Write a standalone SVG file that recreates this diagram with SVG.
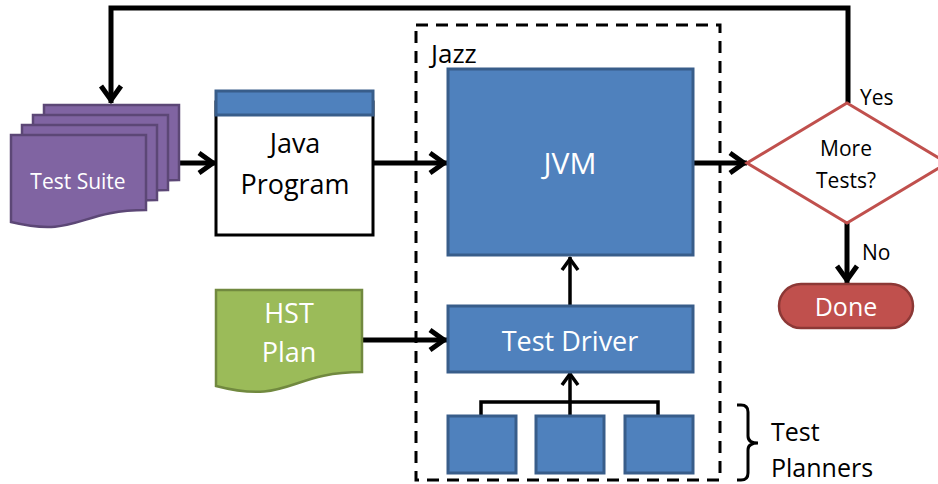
<svg xmlns="http://www.w3.org/2000/svg" width="938" height="484" viewBox="0 0 938 484">
<defs>
<style>
text{font-family:"Open Sans","Noto Sans","Liberation Sans",sans-serif;text-anchor:middle}
.w{fill:#fff}
.k{fill:#000}
.blue{fill:#4F81BD;stroke:#385D8A;stroke-width:3}
.card{fill:#8064A2;stroke:#5C4776;stroke-width:2.5}
.con{fill:none;stroke:#000;stroke-width:5}
.thin{fill:none;stroke:#000;stroke-width:3.5}
</style>
<path id="card" d="M0,0 H135 V75 C67,75 67,103 0,87 Z"/>
<marker id="ah" markerUnits="userSpaceOnUse" viewBox="-25 -15 30 30" markerWidth="30" markerHeight="30" refX="0" refY="0" orient="auto" overflow="visible">
<path d="M-17,-10 L-3,0 L-17,10" fill="none" stroke="#000" stroke-width="5"/>
</marker>
<marker id="ahs" markerUnits="userSpaceOnUse" viewBox="-25 -15 30 30" markerWidth="30" markerHeight="30" refX="0" refY="0" orient="auto" overflow="visible">
<path d="M-13,-8 L-2,0 L-13,8" fill="none" stroke="#000" stroke-width="3.5"/>
</marker>
</defs>
<rect width="938" height="484" fill="#fff"/>

<g id="jazz">
<rect x="416" y="25" width="304" height="455" fill="none" stroke="#000" stroke-width="3" stroke-dasharray="12,8"/>
<text x="431" y="63" class="k" style="text-anchor:start;font-size:26px">Jazz</text>
</g>

<g id="connectors">
<path class="con" d="M848,103 V8 H111 V103" marker-end="url(#ah)"/>
<path class="con" d="M167,163 H216" marker-end="url(#ah)"/>
<path class="con" d="M373,163 H447" marker-end="url(#ah)"/>
<path class="con" d="M362,340 H447" marker-end="url(#ah)"/>
<path class="con" d="M693,163 H747" marker-end="url(#ah)"/>
<path class="con" d="M847,223 V283" marker-end="url(#ah)"/>
<path class="thin" d="M570,305 V257" marker-end="url(#ahs)"/>
<path class="thin" d="M481,416 V402 H658 V416 M570,416 V372" marker-end="url(#ahs)"/>
</g>

<g id="test-suite">
<use href="#card" class="card" x="44" y="105"/>
<use href="#card" class="card" x="33" y="115"/>
<use href="#card" class="card" x="22" y="125"/>
<use href="#card" class="card" x="11" y="135"/>
<text x="78" y="189" class="w" style="font-size:21px">Test Suite</text>
</g>

<g id="java-program">
<rect x="216" y="102" width="157" height="133" fill="#fff" stroke="#000" stroke-width="3"/>
<rect x="216" y="91" width="157" height="24" class="blue" stroke-width="2"/>
<text x="295" y="153" class="k" style="font-size:27px">Java</text>
<text x="295" y="194" class="k" style="font-size:27px">Program</text>
</g>

<g id="hst-plan">
<path fill="#9BBB59" stroke="#71893F" stroke-width="2.5" d="M216,290 H362 V372 C289,372 289,405 216,386 Z"/>
<text x="289" y="323" class="w" style="font-size:27px">HST</text>
<text x="289" y="362" class="w" style="font-size:27px">Plan</text>
</g>

<g id="jvm">
<rect x="448" y="69" width="245" height="186" class="blue"/>
<text x="570" y="174" class="w" style="font-size:30px">JVM</text>
</g>

<g id="test-driver">
<rect x="448" y="306" width="245" height="66" class="blue"/>
<text x="570" y="351" class="w" style="font-size:27px">Test Driver</text>
</g>

<g id="planner-1"><rect x="448" y="416" width="68" height="57" class="blue"/></g>
<g id="planner-2"><rect x="536" y="416" width="68" height="57" class="blue"/></g>
<g id="planner-3"><rect x="625" y="416" width="68" height="57" class="blue"/></g>

<g id="test-planners">
<path d="M737,405 H741 Q748,405 748,412 V436 Q748,443 758,443 Q748,443 748,450 V473 Q748,480 741,480 H737" fill="none" stroke="#000" stroke-width="3"/>
<text x="771" y="441" class="k" style="text-anchor:start;font-size:25px">Test</text>
<text x="771" y="477" class="k" style="text-anchor:start;font-size:25px">Planners</text>
</g>

<g id="more-tests">
<polygon points="847,103 947,163 847,223 747,163" fill="#fff" stroke="#C0504D" stroke-width="3"/>
<text x="846" y="156" class="k" style="font-size:21px">More</text>
<text x="846" y="188" class="k" style="font-size:21px">Tests?</text>
<text x="860" y="105" class="k" style="text-anchor:start;font-size:21px">Yes</text>
<text x="862" y="260" class="k" style="text-anchor:start;font-size:21px">No</text>
</g>

<g id="done">
<rect x="779" y="284" width="134" height="44" rx="22" fill="#C0504D" stroke="#8C3836" stroke-width="2.5"/>
<text x="846" y="316" class="w" style="font-size:25px">Done</text>
</g>
</svg>
